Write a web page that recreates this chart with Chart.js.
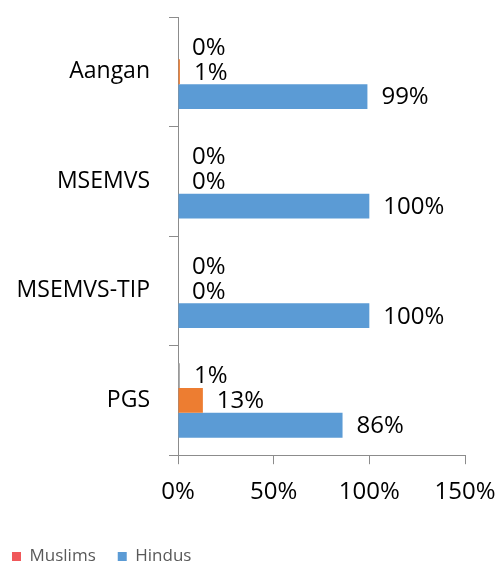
<!DOCTYPE html>
<html>
<head>
<meta charset="utf-8">
<script src="https://cdn.jsdelivr.net/npm/chart.js@4/dist/chart.umd.min.js"></script>
<style>
  html, body { margin: 0; padding: 0; background: #fff; }
  #wrap { width: 497px; height: 565px; }
</style>
</head>
<body>
<div id="wrap"><canvas id="chart"></canvas></div>
<script>
// datos
const categorias = ['Aangan', 'MSEMVS', 'MSEMVS-TIP', 'PGS'];
const otros = [0, 0, 0, 1];
const musulmanes = [1, 0, 0, 13];
const hindues = [99, 100, 100, 86];
const ticksX = [0, 50, 100, 150];

const fuente = '"Open Sans", Lato, sans-serif';

// etiquetas de valor al final de cada barra
const etiquetas = {
    id: 'etiquetas',
    afterDatasetsDraw(chart) {
        const ctx = chart.ctx;
        ctx.save();
        ctx.font = '24px ' + fuente;
        ctx.fillStyle = '#000';
        ctx.textBaseline = 'middle';
        ctx.textAlign = 'left';
        chart.data.datasets.forEach((ds, i) => {
            chart.getDatasetMeta(i).data.forEach((bar, j) => {
                ctx.fillText(ds.data[j] + '%', bar.x + 14, bar.y + 1);
            });
        });
        ctx.restore();
    }
};

// bajar la leyenda hacia el borde inferior
const moverLeyenda = {
    id: 'moverLeyenda',
    afterLayout(chart) {
        const l = chart.legend;
        if (!l) return;
        l.top += 5; l.bottom += 5;
        l.left -= 20; l.right -= 20;
    }
};

new Chart(document.getElementById('chart'), {
    type: 'bar',
    data: {
        labels: categorias,
        datasets: [
            { label: 'Others', data: otros, backgroundColor: '#a5a5a5' },
            { label: 'Muslims', data: musulmanes, backgroundColor: '#ed7d31' },
            { label: 'Hindus', data: hindues, backgroundColor: '#5b9bd5' }
        ]
    },
    options: {
        indexAxis: 'y',
        responsive: true,
        maintainAspectRatio: false,
        animation: false,
        datasets: { bar: { barPercentage: 1, categoryPercentage: 0.68 } },
        layout: { padding: { top: 17, right: 32, left: 10, bottom: -5 } },
        scales: {
            x: {
                min: 0, max: 150,
                afterBuildTicks: axis => { axis.ticks = ticksX.map(v => ({ value: v })); },
                afterFit: s => { s.paddingLeft = 0; s.paddingRight = 0; },
                border: { color: '#8c8c8c' },
                grid: { drawOnChartArea: false, tickLength: 9, color: '#8c8c8c' },
                ticks: {
                    color: '#000',
                    padding: 14,
                    font: { family: fuente, size: 24 },
                    callback: v => v + '%'
                }
            },
            y: {
                afterFit: s => { s.paddingTop = 0; s.paddingBottom = 0; s.width = 168; },
                border: { color: '#8c8c8c' },
                grid: { drawOnChartArea: false, tickLength: 9, color: '#8c8c8c', offset: true },
                ticks: {
                    color: '#000',
                    padding: 19,
                    font: { family: fuente, size: 23 }
                }
            }
        },
        plugins: {
            tooltip: { enabled: false },
            legend: {
                position: 'bottom',
                align: 'start',
                labels: {
                    boxWidth: 9,
                    boxHeight: 9,
                    padding: 22,
                    color: '#595959',
                    font: { family: fuente, size: 17 },
                    filter: item => item.text !== 'Others',
                    generateLabels: chart => [
                        { text: 'Others', fillStyle: '#a5a5a5', strokeStyle: '#a5a5a5', lineWidth: 0, datasetIndex: 0 },
                        { text: 'Muslims', fillStyle: '#f0585a', strokeStyle: '#f0585a', lineWidth: 0, datasetIndex: 1, fontColor: '#595959' },
                        { text: 'Hindus', fillStyle: '#5b9bd5', strokeStyle: '#5b9bd5', lineWidth: 0, datasetIndex: 2, fontColor: '#595959' }
                    ]
                }
            }
        }
    },
    plugins: [etiquetas, moverLeyenda]
});
</script>
</body>
</html>
